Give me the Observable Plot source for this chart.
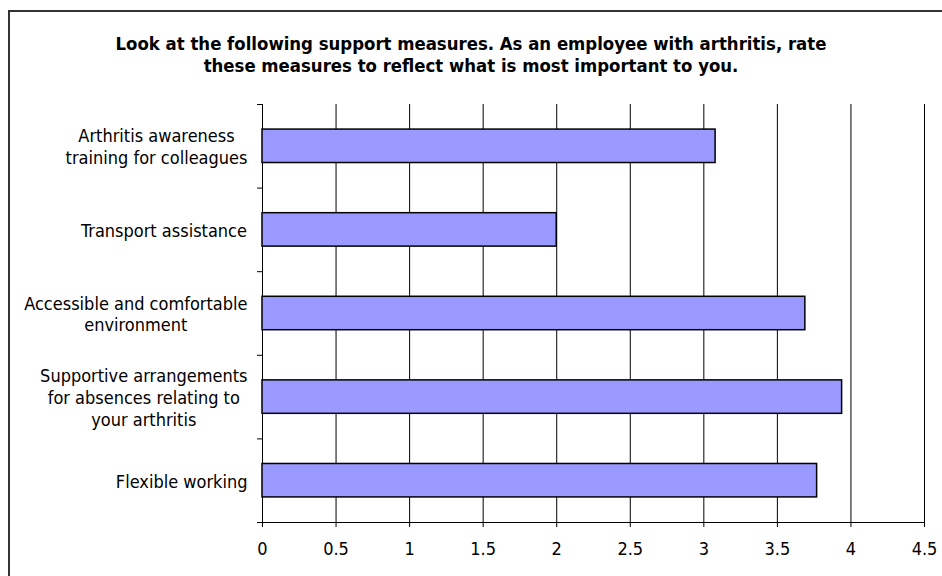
<!DOCTYPE html>
<html>
<head>
<meta charset="utf-8">
<script src="https://cdn.jsdelivr.net/npm/d3@7"></script>
<script src="https://cdn.jsdelivr.net/npm/@observablehq/plot@0.6"></script>
<style>
  html, body { margin: 0; padding: 0; background: #fff; }
  #wrap { position: relative; width: 942px; height: 576px; overflow: hidden; background: #fff; }
  #border { position: absolute; left: 8px; top: 10px; width: 950px; height: 600px; border: 2px solid #333; box-sizing: border-box; }
  #title { position: absolute; left: 0; top: 33px; width: 942px; text-align: center;
           font-family: "DejaVu Sans Condensed", "DejaVu Sans", sans-serif; font-weight: bold; font-size: 18.4px; line-height: 22px; color: #000; }
  #chart { position: absolute; left: 0; top: 0; }
  #chart text { font-family: "DejaVu Sans Condensed", "DejaVu Sans", sans-serif; }
</style>
</head>
<body>
<div id="wrap">
  <div id="border"></div>
  <div id="chart"></div>
  <div id="title">Look at the following support measures. As an employee with arthritis, rate<br>these measures to reflect what is most important to you.</div>
</div>
<script>
const categories = [
  "Arthritis awareness\ntraining for colleagues",
  "Transport assistance",
  "Accessible and comfortable\nenvironment",
  "Supportive arrangements\nfor absences relating to\nyour arthritis",
  "Flexible working"
];
const values = [3.08, 2.0, 3.69, 3.94, 3.77];
const xTicks = [0, 0.5, 1, 1.5, 2, 2.5, 3, 3.5, 4, 4.5];

const data = categories.map((c, i) => ({i, label: c, value: values[i]}));
const bounds = d3.range(categories.length + 1);

const chart = Plot.plot({
  width: 942,
  height: 576,
  marginLeft: 262,
  marginRight: 18,
  marginTop: 104,
  marginBottom: 54,
  style: {background: "transparent", fontSize: "18px", color: "#000"},
  x: {domain: [0, 4.5], label: null},
  y: {domain: [0, categories.length], reverse: true, label: null},
  marks: [
    Plot.ruleX(xTicks, {stroke: "#000", strokeWidth: 1}),
    Plot.ruleY([categories.length], {x1: 0, x2: 4.5, stroke: "#000"}),
    Plot.rectX(data, {
      x1: 0, x2: "value",
      y1: d => d.i + 0.3, y2: d => d.i + 0.7,
      fill: "#9999FF", stroke: "#000", strokeWidth: 1.5
    }),
    Plot.axisY({ticks: bounds, tickSize: 5, tickFormat: () => "", stroke: "#000", label: null}),
    Plot.axisX({ticks: xTicks, tickSize: 5, tickPadding: 15, tickFormat: d => String(d), stroke: "#000", fontSize: 18, label: null}),
    Plot.text(data, {
      x: 0, y: d => d.i + 0.5, text: "label",
      textAnchor: "end", dx: -15, lineHeight: 1.2, fontSize: 18, fill: "#000"
    })
  ]
});
document.getElementById("chart").appendChild(chart);

// Centre the lines of each multi-line category label within its right-aligned block
chart.querySelectorAll('g[aria-label="text"] text').forEach(t => {
  const w = t.getBBox().width;
  t.setAttribute("text-anchor", "middle");
  const tr = t.getAttribute("transform") || "";
  t.setAttribute("transform", tr + ` translate(${-w / 2},0)`);
});
</script>
</body>
</html>
